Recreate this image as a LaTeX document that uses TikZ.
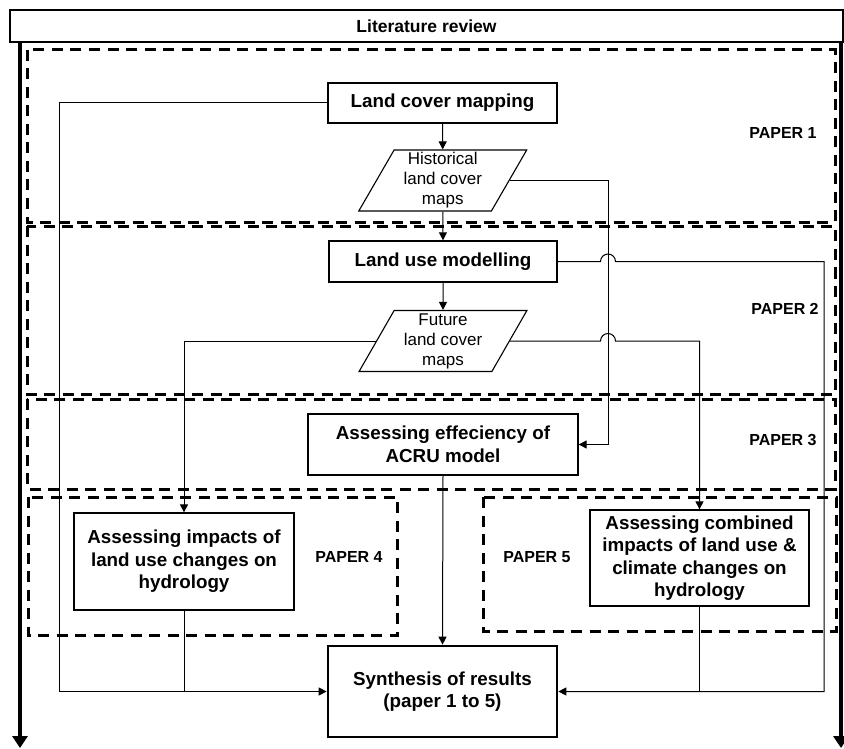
\documentclass[tikz,border=0pt]{standalone}
\usepackage{fontspec}
\setmainfont{Liberation Sans}
\usetikzlibrary{arrows.meta,shapes.geometric}

\begin{document}
\begin{tikzpicture}[x=1pt,y=-1pt,
  procbox/.style={draw, line width=1.3pt, align=center, inner sep=0pt,
    font=\fontsize{18.8}{22.5}\selectfont\bfseries},
  databox/.style={draw, line width=1.1pt, trapezium, trapezium left angle=63,
    trapezium right angle=117, trapezium stretches=true,
    minimum width=168pt, minimum height=61pt, align=center, inner sep=0pt,
    font=\fontsize{17}{20}\selectfont},
  paperbox/.style={line width=3pt, dash pattern=on 11pt off 7.5pt},
  paperlabel/.style={font=\fontsize{16}{19}\selectfont\bfseries},
  link/.style={line width=1pt},
  flow/.style={link, -{Triangle[length=8pt,width=8pt]}},
  bigflow/.style={line width=4pt, -{Triangle[length=12pt,width=15pt]}}
]
\useasboundingbox (0,0) rectangle (844,749);

% paper frames
\draw[paperbox] (27,50) rectangle (835,222);
\draw[paperbox] (27,226) rectangle (835,394);
\draw[paperbox] (27,399) rectangle (835,489);
\draw[paperbox] (28,497) rectangle (397,635);
\draw[paperbox] (483,497) rectangle (836,631);

\node[paperlabel] (l1) at (783,133) {PAPER 1};
\node[paperlabel] (l2) at (785,309) {PAPER 2};
\node[paperlabel] (l3) at (783,440) {PAPER 3};
\node[paperlabel] (l4) at (349,557) {PAPER 4};
\node[paperlabel] (l5) at (537,557) {PAPER 5};

% literature review header and its two running arrows
\node[draw, line width=1.3pt, minimum width=833pt, minimum height=32pt, inner sep=0pt,
  font=\fontsize{17.5}{20}\selectfont\bfseries] (lit) at (426.5,26) {Literature review};
\draw[bigflow] (20,42) -- (20,748);
\draw[bigflow] (841,42) -- (841,748);

% process steps
\node[procbox, minimum width=229pt, minimum height=40pt] (lcm) at (442.5,103) {Land cover mapping};
\node[databox] (hist) at (442.75,180.5) {Historical\\land cover\\maps};
\node[procbox, minimum width=228pt, minimum height=41pt] (lu) at (443,261.5) {Land use modelling};
\node[databox] (fut) at (443,341) {Future\\land cover\\maps};
\node[procbox, minimum width=270pt, minimum height=61pt] (acru) at (443,444.5) {Assessing effeciency of\\ACRU model};
\node[procbox, minimum width=220pt, minimum height=97pt] (p4) at (184,561.5) {Assessing impacts of\\land use changes on\\hydrology};
\node[procbox, minimum width=219pt, minimum height=96pt] (p5) at (699.5,558) {Assessing combined\\impacts of land use \&\\climate changes on\\hydrology};
\node[procbox, line width=2.7pt, minimum width=229pt, minimum height=91pt] (syn) at (442.5,691.5) {Synthesis of results\\(paper 1 to 5)};

\coordinate (cx) at (608,0);

% connectors
\draw[flow] (lcm.west) -- (59,103) |- (syn.west);
\draw[flow] (lcm.south) -- (hist.north);
\draw[flow] (hist.south) -- (lu.north);
\draw[flow] (lu.south) -- (fut.north);
\draw[flow] (hist.right side) -- (hist.right side -| cx) |- (acru.east);
\draw[flow] (lu.east) -- (600.5,261.5) arc[start angle=180, end angle=0, radius=7.5pt]
  -- (824,261.5) |- (syn.east);
\draw[flow] (fut.left side) -| (p4.north);
\draw[flow] (fut.right side) -- (600.5,341) arc[start angle=180, end angle=0, radius=7.5pt]
  -| (p5.north);
\draw[flow] (acru.south) -- (syn.north);
\draw[link] (p4.south) -- (p4.south |- syn.west);
\draw[link] (p5.south) -- (p5.south |- syn.east);
\end{tikzpicture}
\end{document}
